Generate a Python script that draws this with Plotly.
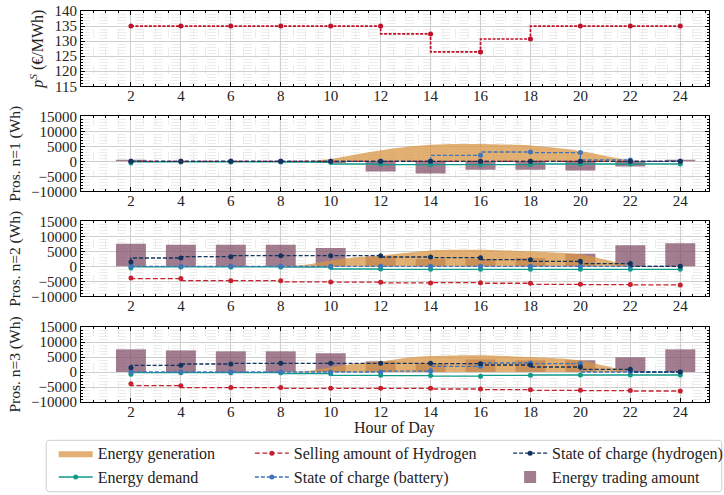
import plotly.graph_objects as go

# ---------------- data ----------------
hours = [2, 4, 6, 8, 10, 12, 14, 16, 18, 20, 22, 24]
gen_hours = list(range(0, 25))

price = [135, 135, 135, 135, 135, 135, 132.4, 126.4, 130.7, 135, 135, 135]

gen1 = [0, 0, 0, 0, 0, 0, 0, 0, 0, 150, 800, 2300, 3700, 4800, 5500, 5750, 5800, 5600, 5300, 4500, 3400, 1800, 350, 50, 0]
gen2 = [0, 0, 0, 0, 0, 0, 0, 0, 0, 500, 1900, 3000, 3500, 4500, 5300, 5500, 5550, 5300, 5000, 4600, 4000, 2200, 300, 0, 0]
gen3 = [0, 0, 0, 0, 0, 0, 0, 0, 0, 300, 1600, 2800, 3550, 4700, 5300, 5500, 5550, 5300, 5000, 4600, 3900, 2000, 200, 0, 0]

demand1 = [-600, -220, -220, -220, -300, -900, -1100, -1100, -1100, -900, -900, -900]
demand2 = [-600, -200, -200, -200, -300, -900, -1000, -1000, -1000, -1000, -1000, -1000]
demand3 = [-780, -220, -220, -220, -550, -1100, -1200, -1400, -1100, -1000, -1000, -1000]

selling1 = [0, 0, 0, 0, 0, 0, 0, 0, 0, 0, 0, 0]
selling2 = [-3900, -4100, -4800, -4800, -5200, -5300, -5550, -5450, -5650, -6000, -6100, -6200]
selling3 = [-3900, -4550, -5200, -5200, -5440, -5440, -5440, -5660, -5880, -6100, -6200, -6330]

batt1 = [0, 0, 0, 0, 0, 0, 0, 2000, 3100, 2900, 450, 0]
batt2 = [0, 0, 0, 0, 0, 0, 0, 0, 0, 0, 0, 0]
batt3 = [0, 0, 0, 0, 0, 0, 300, 1900, 3000, 2800, 0, 0]

h2soc1 = [0, 0, 0, 0, 0, 0, 0, 0, 0, 0, 0, 0]
h2soc2 = [1440, 2770, 3200, 3550, 3550, 3550, 3100, 2880, 2200, 1660, 900, 0]
h2soc3 = [1440, 2220, 2660, 2880, 2880, 2880, 2880, 2770, 2330, 1660, 900, 0]

trade1 = [500, 0, 0, 0, -600, -3400, -4100, -2800, -2800, -3100, -1700, 500]
trade2 = [7550, 7220, 7220, 7220, 6100, 3300, 2450, 2450, 2770, 4200, 7000, 7650]
trade3 = [7550, 7200, 6900, 6900, 6250, 3550, 2770, 4200, 3900, 3900, 4900, 7550]

x_ticks = [2, 4, 6, 8, 10, 12, 14, 16, 18, 20, 22, 24]
price_ticks = [115, 120, 125, 130, 135, 140]
wh_ticks = [-10000, -5000, 0, 5000, 10000, 15000]

prosumers = [
    ("Pros. n=1 (Wh)", gen1, demand1, selling1, batt1, h2soc1, trade1),
    ("Pros. n=2 (Wh)", gen2, demand2, selling2, batt2, h2soc2, trade2),
    ("Pros. n=3 (Wh)", gen3, demand3, selling3, batt3, h2soc3, trade3),
]

# ---------------- style ----------------
FONT = "Liberation Serif"
C_GEN = "rgba(218,150,70,0.75)"
C_GEN_LINE = "rgba(218,150,70,0)"
C_DEM = "#109a88"
C_SELL = "#c8202e"
C_BATT = "#3f74b8"
C_H2 = "#12335c"
C_TRADE = "rgba(125,75,100,0.72)"
C_PRICE = "#c0102a"

W, H = 724, 495
ML, MR, MT, MB = 81.3, 15.3, 10.7, 93.3
PW, PH = W - ML - MR, H - MT - MB


def py(ypix):
    return (H - MB - ypix) / PH


def px(xpix):
    return (xpix - ML) / PW


panel_px = [(10.7, 86.0), (116.0, 191.0), (221.0, 296.0), (326.7, 401.7)]
domains = [[py(b), py(t)] for t, b in panel_px]
domains[-1][0] = 0.0

fig = go.Figure()

# panel 1: price
fig.add_trace(go.Scatter(
    x=hours, y=price, mode="lines+markers", line_shape="vh",
    line=dict(color=C_PRICE, width=1.7, dash="3px,1.5px"),
    marker=dict(color=C_PRICE, size=5), showlegend=False,
    xaxis="x", yaxis="y"))

for i, (ttl, gen, dem, sell, batt, h2, trade) in enumerate(prosumers):
    ax = str(i + 2)
    show = (i == 0)
    fig.add_trace(go.Scatter(
        x=gen_hours, y=gen, mode="lines", fill="tozeroy", fillcolor=C_GEN,
        line=dict(color=C_GEN_LINE, width=0, shape="spline", smoothing=0.7),
        name="Energy generation", legend="legend", legendrank=1,
        showlegend=show, xaxis="x" + ax, yaxis="y" + ax))
    fig.add_trace(go.Bar(
        x=hours, y=trade, width=1.2, marker=dict(color=C_TRADE, line=dict(width=0)),
        name="Energy trading amount", legend="legend3", legendrank=2,
        showlegend=show, xaxis="x" + ax, yaxis="y" + ax))
    fig.add_trace(go.Scatter(
        x=hours, y=dem, mode="lines+markers", line_shape="vh",
        line=dict(color=C_DEM, width=1.3), marker=dict(color=C_DEM, size=5),
        name="Energy demand", legend="legend", legendrank=2,
        showlegend=show, xaxis="x" + ax, yaxis="y" + ax))
    fig.add_trace(go.Scatter(
        x=hours, y=sell, mode="lines+markers", line_shape="vh",
        line=dict(color=C_SELL, width=1.3, dash="5px,2.5px"), marker=dict(color=C_SELL, size=5),
        name="Selling amount of Hydrogen", legend="legend2", legendrank=1,
        showlegend=show, xaxis="x" + ax, yaxis="y" + ax))
    fig.add_trace(go.Scatter(
        x=hours, y=batt, mode="lines+markers", line_shape="vh",
        line=dict(color=C_BATT, width=1.3, dash="4px,2px"), marker=dict(color=C_BATT, size=5),
        name="State of charge (battery)", legend="legend2", legendrank=2,
        showlegend=show, xaxis="x" + ax, yaxis="y" + ax))
    fig.add_trace(go.Scatter(
        x=hours, y=h2, mode="lines+markers", line_shape="vh",
        line=dict(color=C_H2, width=1.3, dash="4px,2px"), marker=dict(color=C_H2, size=5),
        name="State of charge (hydrogen)", legend="legend3", legendrank=1,
        showlegend=show, xaxis="x" + ax, yaxis="y" + ax))

axis_common = dict(
    showline=True, linecolor="black", linewidth=1.2, mirror="allticks",
    ticks="inside", ticklen=4, tickcolor="black", tickwidth=1,
    showgrid=True, gridcolor="#cfcfcf", gridwidth=1,
    zeroline=False, automargin=False,
    tickfont=dict(family=FONT, size=15, color="#222"),
)

layout = dict(
    width=W, height=H, plot_bgcolor="white", paper_bgcolor="white",
    margin=dict(l=ML, r=MR, t=MT, b=MB, autoexpand=False),
    font=dict(family=FONT, size=15, color="#222"),
    barmode="overlay",
)

for i in range(4):
    sfx = "" if i == 0 else str(i + 1)
    xa = dict(axis_common)
    xa.update(domain=[0, 1], range=[0, 25.15], tickmode="array", tickvals=x_ticks,
              anchor="y" + sfx, ticklabelstandoff=-4,
              minor=dict(dtick=0.5, tick0=0, ticks="inside", ticklen=2, tickcolor="black",
                         showgrid=True, gridcolor="#ececec", griddash="dash"))
    ya = dict(axis_common)
    if i == 0:
        ya.update(range=[115, 140], tickmode="array", tickvals=price_ticks,
                  title=dict(text="<i>p</i><sup><i>S</i></sup> (€/MWh)", standoff=6,
                             font=dict(family=FONT, size=16)),
                  minor=dict(dtick=1, tick0=0, ticks="inside", ticklen=2, tickcolor="black",
                             showgrid=True, gridcolor="#ececec", griddash="dash"))
    else:
        ya.update(range=[-10000, 15000], tickmode="array", tickvals=wh_ticks,
                  ticktext=[("\u2212" + str(-v)) if v < 0 else str(v) for v in wh_ticks],
                  title=dict(text=prosumers[i - 1][0], standoff=6, font=dict(family=FONT, size=15.5)),
                  minor=dict(dtick=1000, tick0=0, ticks="inside", ticklen=2, tickcolor="black",
                             showgrid=True, gridcolor="#ececec", griddash="dash"))
    ya.update(domain=domains[i], anchor="x" + sfx)
    layout["xaxis" + sfx] = xa
    layout["yaxis" + sfx] = ya

leg_common = dict(
    orientation="v", xref="paper", yref="paper", xanchor="left", yanchor="top",
    bgcolor="rgba(0,0,0,0)", borderwidth=0, tracegroupgap=0,
    font=dict(family=FONT, size=16, color="#222"), itemwidth=34,
    traceorder="normal",
)
legend_top = py(436)
layout["legend"] = dict(leg_common, x=px(54), y=legend_top)
layout["legend2"] = dict(leg_common, x=px(250), y=legend_top)
layout["legend3"] = dict(leg_common, x=px(508), y=legend_top)

# x-axis title of the bottom panel
layout["annotations"] = [dict(text="Hour of Day", xref="paper", yref="paper",
                              x=px((ML + W - MR) / 2), y=py(428), xanchor="center", yanchor="middle",
                              showarrow=False, font=dict(family=FONT, size=16, color="#222"))]

# legend frame (rounded rectangle)
x0, x1, y0, y1, r = 46.5, 721.5, 440.0, 491.5, 4.0
path = (f"M {px(x0 + r)},{py(y0)} L {px(x1 - r)},{py(y0)} Q {px(x1)},{py(y0)} {px(x1)},{py(y0 + r)} "
        f"L {px(x1)},{py(y1 - r)} Q {px(x1)},{py(y1)} {px(x1 - r)},{py(y1)} "
        f"L {px(x0 + r)},{py(y1)} Q {px(x0)},{py(y1)} {px(x0)},{py(y1 - r)} "
        f"L {px(x0)},{py(y0 + r)} Q {px(x0)},{py(y0)} {px(x0 + r)},{py(y0)} Z")
layout["shapes"] = [dict(type="path", path=path, xref="paper", yref="paper",
                         line=dict(color="#cccccc", width=1), fillcolor="rgba(255,255,255,0)",
                         layer="below")]

fig.update_layout(**layout)
fig.write_html("out.html")
